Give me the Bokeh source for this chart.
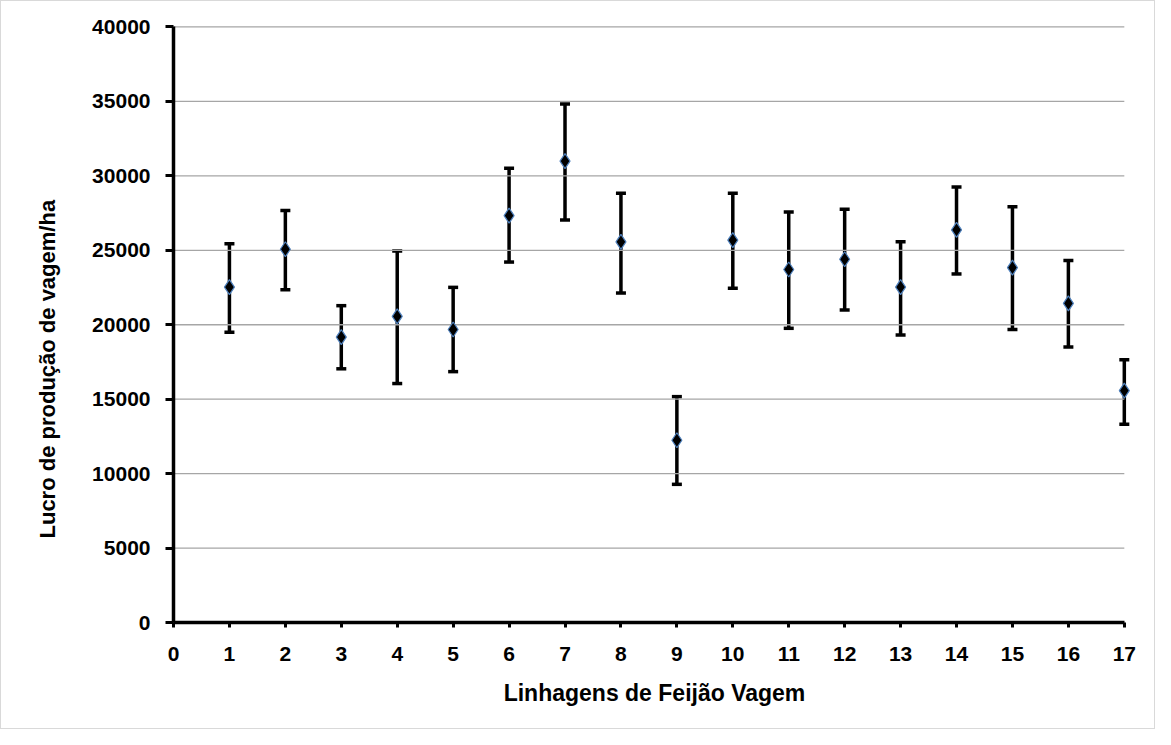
from bokeh.plotting import figure
from bokeh.models import ColumnDataSource, Whisker, TeeHead, Range1d, FixedTicker, Title
from bokeh.embed import file_html
from bokeh.resources import INLINE

# Data
linhagens = list(range(1, 18))
lucro = [22530, 25070, 19170, 20560, 19680, 27330, 30990, 25570, 12240,
         25680, 23710, 24400, 22530, 26370, 23840, 21440, 15570]
lucro_sup = [25440, 27680, 21280, 24960, 22510, 30510, 34830, 28830, 15170,
             28830, 27570, 27760, 25570, 29250, 27920, 24320, 17650]
lucro_inf = [19490, 22350, 17040, 16050, 16850, 24210, 27040, 22130, 9280,
             22450, 19760, 20990, 19310, 23410, 19680, 18510, 13310]
x_ticks = list(range(0, 18))
y_ticks = list(range(0, 40001, 5000))
x_title = "Linhagens de Feijão Vagem"
y_title = "Lucro  de produção de vagem/ha"

FONT = "Liberation Sans"
W, H = 1155, 729

p = figure(width=W, height=H, output_backend="svg", toolbar_location=None,
           x_range=Range1d(0, 17.2), y_range=Range1d(0, 40300),
           min_border_left=172, min_border_right=21, min_border_top=21, min_border_bottom=108)
p.styles = {"border": "1px solid #d9d9d9"}
p.outline_line_color = None
p.xgrid.visible = False
p.ygrid.visible = False

# horizontal gridlines between x=0 and x=17
p.segment(x0=[x_ticks[0]] * len(y_ticks[1:]), x1=[x_ticks[-1]] * len(y_ticks[1:]),
          y0=y_ticks[1:], y1=y_ticks[1:], line_color="#a6a6a6", line_width=1.3)

src = ColumnDataSource(dict(x=linhagens, y=lucro, upper=lucro_sup, lower=lucro_inf))
w = Whisker(source=src, base="x", upper="upper", lower="lower", dimension="height",
            line_color="black", line_width=3.5,
            upper_head=TeeHead(size=10, line_width=3.5, line_color="black"),
            lower_head=TeeHead(size=10, line_width=3.5, line_color="black"))
p.add_layout(w)
p.scatter("x", "y", source=src, marker="diamond", size=15, fill_color="black",
          line_color="#4f81bd", line_width=1.2)

for ax in (p.xaxis[0], p.yaxis[0]):
    ax.axis_line_width = 3.5
    ax.axis_line_color = "black"
    ax.major_tick_line_width = 3
    ax.major_tick_line_color = "black"
    ax.major_tick_in = 0
    ax.minor_tick_line_color = None
    ax.major_label_text_font = FONT
    ax.major_label_text_font_style = "bold"
    ax.major_label_text_font_size = "21px"
    ax.major_label_text_color = "black"
    ax.axis_label_text_font = FONT
    ax.axis_label_text_font_style = "bold"
    ax.axis_label_text_color = "black"

p.xaxis[0].ticker = FixedTicker(ticks=x_ticks)
p.xaxis[0].bounds = (x_ticks[0], x_ticks[-1])
p.xaxis[0].major_tick_out = 5
p.xaxis[0].major_label_standoff = 19
p.xaxis[0].axis_label = x_title
p.xaxis[0].axis_label_text_font_size = "23px"
p.xaxis[0].axis_label_standoff = 16

p.yaxis[0].ticker = FixedTicker(ticks=y_ticks)
p.yaxis[0].bounds = (y_ticks[0], y_ticks[-1])
p.yaxis[0].major_tick_out = 8
p.yaxis[0].major_label_standoff = 15

# y-axis title, placed slightly below the centre of the plot area as in the reference
p.add_layout(Title(text=y_title, align="left", offset=84, standoff=58,
                   vertical_align="middle", text_font=FONT, text_font_style="bold",
                   text_font_size="22px", text_color="black"), "left")

open("out.html", "w").write(file_html(p, INLINE))
